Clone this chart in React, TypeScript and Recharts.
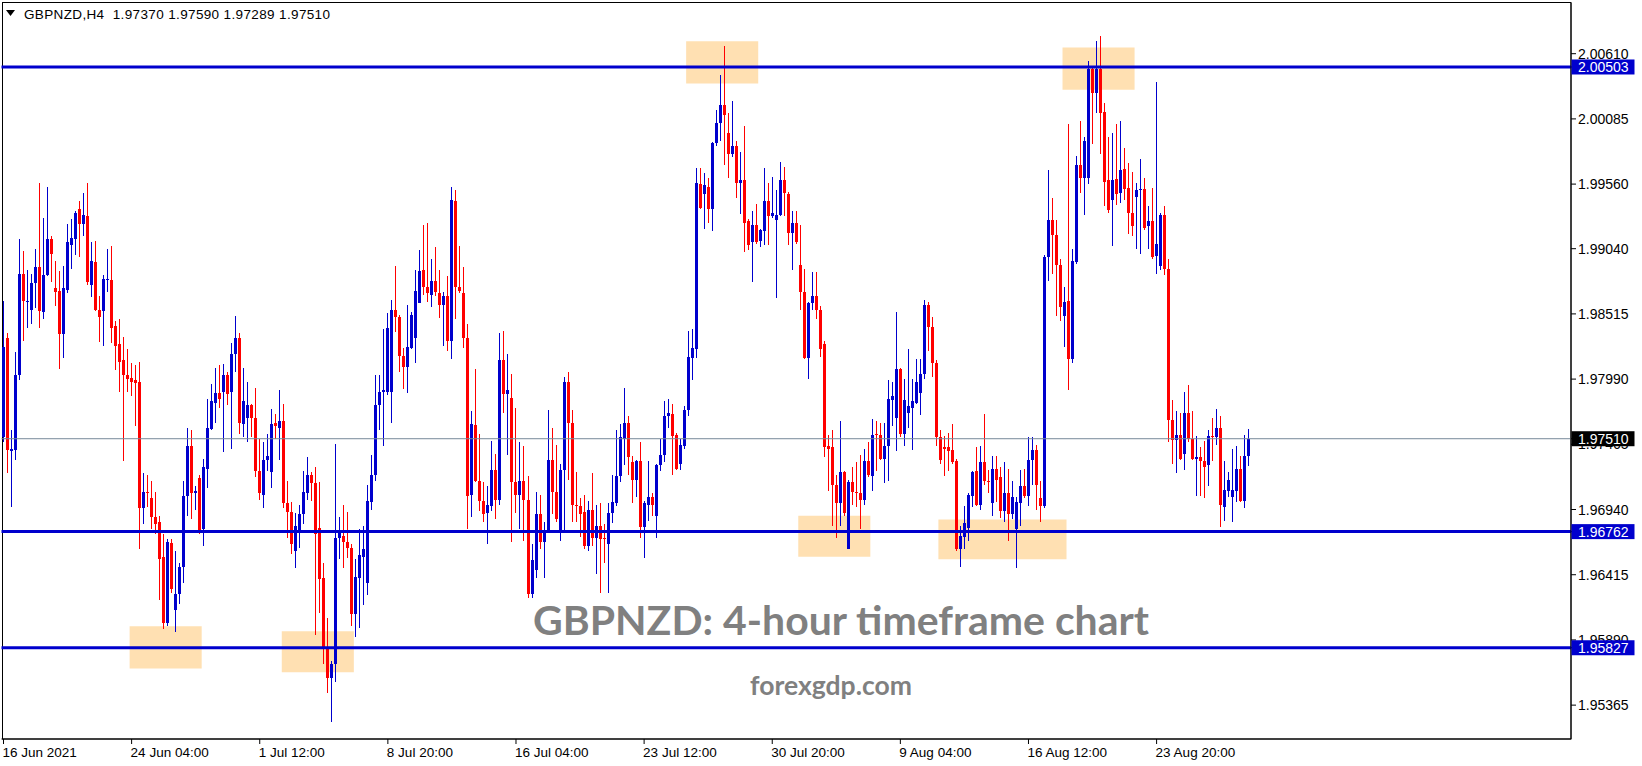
import React from 'react';
import { ComposedChart, Bar, XAxis, YAxis, ReferenceLine, ReferenceArea, Customized } from 'recharts';

// ---- OHLC values (H4 bars, GBPNZD) ----
const openP = [
1.9752,1.9832,1.9741,1.9742,1.9802,1.9884,1.9861,1.9855,1.9876,1.9889,
1.9853,1.9883,1.9912,1.9872,1.9870,1.9835,1.9871,1.9907,1.9912,1.9936,
1.9924,1.9930,1.9875,1.9893,1.9855,1.9854,1.9879,1.9879,1.9842,1.9827,
1.9814,1.9802,1.9800,1.9798,1.9797,1.9695,1.9708,1.9703,1.9688,1.9684,
1.9656,1.9603,1.9667,1.9613,1.9626,1.9648,1.9705,1.9745,1.9707,1.9719,
1.9678,1.9727,1.9759,1.9780,1.9788,1.9789,1.9802,1.9789,1.9819,1.9832,
1.9763,1.9768,1.9778,1.9768,1.9725,1.9706,1.9734,1.9724,1.9764,1.9760,
1.9765,1.9699,1.9692,1.9661,1.9676,1.9690,1.9707,1.9722,1.9715,1.9679,
1.9639,1.9582,1.9558,1.9570,1.9671,1.9673,1.9668,1.9663,1.9610,1.9639,
1.9656,1.9635,1.9700,1.9722,1.9778,1.9789,1.9789,1.9789,1.9855,1.9849,
1.9818,1.9809,1.9824,1.9832,1.9860,1.9887,1.9873,1.9867,1.9878,1.9868,
1.9859,1.9866,1.9830,1.9942,1.9873,1.9868,1.9832,1.9706,1.9762,1.9717,
1.9701,1.9691,1.9697,1.9726,1.9702,1.9814,1.9787,1.9784,1.9716,1.9706,
1.9717,1.9702,1.9626,1.9645,1.9690,1.9668,1.9677,1.9734,1.9708,1.9675,
1.9726,1.9797,1.9764,1.9698,1.9697,1.9692,1.9665,1.9694,1.9671,1.9681,
1.9671,1.9666,1.9691,1.9699,1.9721,1.9751,1.9764,1.9732,1.9718,1.9733,
1.9680,1.9698,1.9704,1.9689,1.9730,1.9738,1.9769,1.9771,1.9754,1.9731,
1.9745,1.9774,1.9816,1.9823,1.9956,1.9948,1.9954,1.9936,1.9989,2.0005,
2.0020,1.9997,1.9980,1.9987,1.9957,1.9959,1.9926,1.9909,1.9923,1.9910,
1.9918,1.9942,1.9930,1.9927,1.9931,1.9959,1.9948,1.9917,1.9925,1.9891,
1.9869,1.9816,1.9860,1.9866,1.9855,1.9827,1.9745,1.9744,1.9714,1.9699,
1.9724,1.9662,1.9716,1.9708,1.9707,1.9702,1.9733,1.9721,1.9755,1.9754,
1.9735,1.9745,1.9782,1.9768,1.9807,1.9755,1.9772,1.9776,1.9780,1.9788,
1.9803,1.9859,1.9841,1.9812,1.9752,1.9744,1.9744,1.9742,1.9733,1.9662,
1.9672,1.9679,1.9705,1.9725,1.9698,1.9732,1.9717,1.9699,1.9727,1.9720,
1.9693,1.9707,1.9690,1.9678,1.9699,1.9713,1.9705,1.9734,1.9742,1.9703,
1.9697,1.9897,1.9927,1.9915,1.9891,1.9850,1.9862,1.9815,1.9893,1.9971,
1.9961,1.9961,2.0049,2.0029,2.0049,2.0014,1.9959,1.9943,1.9960,1.9949,
1.9968,1.9953,1.9933,1.9946,1.9951,1.9952,1.9922,1.9926,1.9898,1.9890,
1.9931,1.9888,1.9766,1.9750,1.9754,1.9739,1.9772,1.9751,1.9735,1.9736,
1.9733,1.9730,1.9753,1.9752,1.9760,1.9696,1.9709,1.9704,1.9709,1.9727,
1.9701,1.97370];

const highP = [
1.9862,1.9836,1.9758,1.9821,1.9912,1.9902,1.9887,1.9884,1.9904,1.9957,
1.9929,1.9954,1.9914,1.9894,1.9886,1.9890,1.9924,1.9928,1.9934,1.9942,
1.9949,1.9957,1.9909,1.9910,1.9866,1.9883,1.9904,1.9906,1.9846,1.9847,
1.9833,1.9823,1.9812,1.9810,1.9813,1.9723,1.9722,1.9717,1.9708,1.9689,
1.9674,1.9670,1.9670,1.9661,1.9651,1.9717,1.9760,1.9758,1.9713,1.9722,
1.9735,1.9783,1.9795,1.9808,1.9810,1.9811,1.9805,1.9828,1.9850,1.9836,
1.9808,1.9797,1.9779,1.9792,1.9751,1.9748,1.9755,1.9775,1.9771,1.9790,
1.9779,1.9717,1.9700,1.9691,1.9698,1.9725,1.9736,1.9724,1.9728,1.9716,
1.9651,1.9607,1.9572,1.9747,1.9688,1.9698,1.9692,1.9666,1.9654,1.9678,
1.9681,1.9714,1.9738,1.9802,1.9802,1.9839,1.9852,1.9863,1.9890,1.9851,
1.9824,1.9859,1.9853,1.9887,1.9903,1.9923,1.9925,1.9896,1.9905,1.9887,
1.9869,1.9882,1.9954,1.9951,1.9906,1.9889,1.9843,1.9773,1.9807,1.9755,
1.9716,1.9713,1.9749,1.9739,1.9836,1.9838,1.9819,1.9803,1.9776,1.9748,
1.9745,1.9721,1.9666,1.9708,1.9706,1.9684,1.9774,1.9760,1.9746,1.9731,
1.9801,1.9805,1.9774,1.9724,1.9703,1.9706,1.9701,1.9723,1.9698,1.9699,
1.9682,1.9699,1.9722,1.9758,1.9763,1.9792,1.9769,1.9737,1.9734,1.9748,
1.9701,1.9733,1.9707,1.9731,1.9751,1.9781,1.9783,1.9779,1.9756,1.9751,
1.9777,1.9838,1.9839,1.9969,1.9969,1.9965,1.9961,1.9990,2.0016,2.0044,
2.0067,2.0013,2.0023,1.9991,1.9982,2.0003,1.9928,1.9934,1.9940,1.9920,
1.9969,1.9957,1.9962,1.9951,1.9974,1.9970,1.9950,1.9934,1.9934,1.9923,
1.9888,1.9861,1.9885,1.9885,1.9858,1.9830,1.9754,1.9758,1.9722,1.9765,
1.9725,1.9718,1.9728,1.9732,1.9738,1.9743,1.9748,1.9767,1.9765,1.9764,
1.9764,1.9798,1.9797,1.9853,1.9808,1.9799,1.9823,1.9799,1.9815,1.9815,
1.9863,1.9861,1.9849,1.9814,1.9758,1.9753,1.9756,1.9763,1.9735,1.9681,
1.9697,1.9707,1.9725,1.9744,1.9745,1.9771,1.9726,1.9737,1.9737,1.9728,
1.9732,1.9727,1.9717,1.9704,1.9726,1.9727,1.9752,1.9752,1.9746,1.9717,
1.9899,1.9967,1.9945,1.9927,1.9896,1.9873,2.0004,1.9904,1.9979,2.0007,
1.9994,2.0055,2.0050,2.0071,2.0075,2.0021,1.9994,1.9997,2.0004,2.0007,
1.9985,1.9973,1.9966,1.9957,1.9976,1.9961,1.9938,1.9953,2.0038,1.9933,
1.9938,1.9896,1.9782,1.9773,1.9772,1.9789,1.9794,1.9773,1.9753,1.9744,
1.9749,1.9758,1.9768,1.9775,1.9769,1.9733,1.9724,1.9743,1.9745,1.9737,
1.9754,1.97590];

const lowP = [
1.9748,1.9723,1.9696,1.9734,1.9798,1.9830,1.9840,1.9843,1.9856,1.9840,
1.9847,1.9882,1.9877,1.9858,1.9807,1.9816,1.9868,1.9888,1.9899,1.9897,
1.9914,1.9875,1.9865,1.9854,1.9829,1.9826,1.9869,1.9828,1.9806,1.9789,
1.9733,1.9789,1.9785,1.9761,1.9662,1.9682,1.9696,1.9678,1.9674,1.9621,
1.9598,1.9600,1.9627,1.9595,1.9618,1.9635,1.9689,1.9686,1.9694,1.9674,
1.9665,1.9711,1.9758,1.9764,1.9776,1.9740,1.9778,1.9743,1.9805,1.9755,
1.9752,1.9748,1.9752,1.9720,1.9702,1.9695,1.9725,1.9711,1.9751,1.9734,
1.9695,1.9671,1.9658,1.9647,1.9663,1.9682,1.9702,1.9701,1.9593,1.9611,
1.9570,1.9546,1.9523,1.9555,1.9654,1.9647,1.9655,1.9600,1.9591,1.9599,
1.9617,1.9625,1.9694,1.9717,1.9758,1.9745,1.9786,1.9764,1.9837,1.9805,
1.9791,1.9788,1.9823,1.9812,1.9860,1.9867,1.9861,1.9857,1.9866,1.9848,
1.9826,1.9822,1.9815,1.9847,1.9868,1.9824,1.9678,1.9688,1.9716,1.9693,
1.9684,1.9666,1.9693,1.9686,1.9698,1.9772,1.9738,1.9668,1.9691,1.9678,
1.9669,1.9623,1.9623,1.9639,1.9662,1.9639,1.9675,1.9690,1.9684,1.9669,
1.9677,1.9718,1.9684,1.9684,1.9672,1.9662,1.9661,1.9665,1.9642,1.9627,
1.9651,1.9627,1.9683,1.9697,1.9716,1.9730,1.9722,1.9699,1.9704,1.9671,
1.9655,1.9685,1.9689,1.9671,1.9725,1.9732,1.9760,1.9722,1.9726,1.9726,
1.9743,1.9769,1.9798,1.9816,1.9936,1.9920,1.9925,1.9918,1.9987,1.9991,
1.9971,1.9961,1.9978,1.9945,1.9932,1.9901,1.9903,1.9877,1.9908,1.9905,
1.9907,1.9907,1.9929,1.9864,1.9930,1.9930,1.9907,1.9887,1.9908,1.9855,
1.9815,1.9799,1.9855,1.9847,1.9817,1.9736,1.9709,1.9681,1.9671,1.9681,
1.9689,1.9662,1.9698,1.9696,1.9678,1.9698,1.9720,1.9709,1.9725,1.9734,
1.9715,1.9717,1.9761,1.9741,1.9752,1.9745,1.9760,1.9742,1.9779,1.9770,
1.9799,1.9822,1.9801,1.9745,1.9731,1.9721,1.9725,1.9731,1.9661,1.9648,
1.9662,1.9669,1.9696,1.9697,1.9694,1.9714,1.9707,1.9689,1.9700,1.9687,
1.9684,1.9669,1.9686,1.9647,1.9681,1.9703,1.9697,1.9714,1.9694,1.9684,
1.9695,1.9878,1.9884,1.9850,1.9846,1.9825,1.9790,1.9812,1.9892,1.9949,
1.9931,1.9956,1.9988,2.0013,1.9980,1.9938,1.9933,1.9906,1.9939,1.9941,
1.9943,1.9916,1.9914,1.9904,1.9900,1.9919,1.9904,1.9896,1.9884,1.9887,
1.9883,1.9748,1.9731,1.9723,1.9734,1.9726,1.9748,1.9734,1.9705,1.9705,
1.9703,1.9713,1.9733,1.9746,1.9680,1.9685,1.9704,1.9684,1.9700,1.9700,
1.9695,1.97289];

const closeP = [
1.9825,1.9742,1.9743,1.9802,1.9884,1.9862,1.9862,1.9876,1.9889,1.9854,
1.9883,1.9912,1.9900,1.9869,1.9835,1.9872,1.9909,1.9913,1.9933,1.9924,
1.9931,1.9877,1.9894,1.9855,1.9849,1.9880,1.9880,1.9840,1.9826,1.9813,
1.9802,1.9799,1.9797,1.9796,1.9695,1.9708,1.9707,1.9688,1.9682,1.9654,
1.9603,1.9668,1.9630,1.9626,1.9648,1.9705,1.9745,1.9707,1.9709,1.9677,
1.9728,1.9760,1.9781,1.9788,1.9783,1.9802,1.9787,1.9819,1.9832,1.9764,
1.9781,1.9778,1.9768,1.9725,1.9707,1.9734,1.9737,1.9763,1.9761,1.9765,
1.9699,1.9692,1.9666,1.9681,1.9690,1.9708,1.9722,1.9715,1.9674,1.9638,
1.9582,1.9558,1.9570,1.9671,1.9676,1.9668,1.9663,1.9610,1.9640,1.9657,
1.9662,1.9701,1.9722,1.9778,1.9789,1.9790,1.9840,1.9855,1.9849,1.9818,
1.9809,1.9825,1.9851,1.9870,1.9886,1.9873,1.9868,1.9878,1.9869,1.9859,
1.9866,1.9830,1.9943,1.9873,1.9870,1.9832,1.9705,1.9763,1.9717,1.9701,
1.9690,1.9698,1.9726,1.9702,1.9814,1.9787,1.9790,1.9716,1.9706,1.9717,
1.9702,1.9626,1.9653,1.9690,1.9668,1.9677,1.9734,1.9708,1.9686,1.9726,
1.9797,1.9764,1.9698,1.9697,1.9690,1.9665,1.9694,1.9671,1.9681,1.9670,
1.9670,1.9691,1.9700,1.9721,1.9752,1.9764,1.9736,1.9718,1.9733,1.9680,
1.9699,1.9704,1.9698,1.9730,1.9738,1.9769,1.9772,1.9753,1.9727,1.9746,
1.9774,1.9817,1.9824,1.9957,1.9937,1.9955,1.9936,1.9989,2.0005,2.0020,
2.0012,1.9980,1.9987,1.9957,1.9959,1.9925,1.9907,1.9923,1.9909,1.9919,
1.9942,1.9930,1.9933,1.9931,1.9959,1.9949,1.9917,1.9925,1.9909,1.9869,
1.9816,1.9860,1.9866,1.9855,1.9823,1.9744,1.9743,1.9714,1.9699,1.9724,
1.9691,1.9716,1.9708,1.9707,1.9702,1.9733,1.9722,1.9754,1.9754,1.9735,
1.9745,1.9783,1.9785,1.9807,1.9755,1.9782,1.9777,1.9781,1.9797,1.9803,
1.9859,1.9841,1.9812,1.9752,1.9734,1.9743,1.9741,1.9732,1.9662,1.9673,
1.9683,1.9706,1.9724,1.9698,1.9732,1.9717,1.9716,1.9727,1.9718,1.9693,
1.9707,1.9690,1.9704,1.9700,1.9713,1.9705,1.9734,1.9742,1.9714,1.9697,
1.9897,1.9927,1.9915,1.9891,1.9857,1.9861,1.9815,1.9894,1.9971,1.9961,
1.9991,2.0049,2.0029,2.0049,2.0013,1.9958,1.9935,1.9959,1.9948,1.9967,
1.9952,1.9933,1.9922,1.9951,1.9952,1.9921,1.9926,1.9897,1.9908,1.9931,
1.9888,1.9766,1.9750,1.9754,1.9735,1.9772,1.9751,1.9735,1.9736,1.9733,
1.9728,1.9753,1.9752,1.9760,1.9698,1.9710,1.9718,1.9710,1.9727,1.9701,
1.9737,1.97510];

const TOTAL_SLOTS = 392;
const xTickIdx = [0, 32, 64, 96, 128, 160, 192, 224, 256, 288];
const xTickLabels = ['16 Jun 2021', '24 Jun 04:00', '1 Jul 12:00', '8 Jul 20:00', '16 Jul 04:00',
  '23 Jul 12:00', '30 Jul 20:00', '9 Aug 04:00', '16 Aug 12:00', '23 Aug 20:00'];
const yTicks = [2.0061, 2.00085, 1.9956, 1.9904, 1.98515, 1.9799, 1.97465, 1.9694, 1.96415, 1.9589, 1.95365];
const yDomain = [1.950923, 2.010182];
const levelLines = [2.00503, 1.96762, 1.95827];
const lastPrice = 1.9751;
const zoneX1 = [32, 70, 171, 199, 234, 265];
const zoneX2 = [49, 87, 188, 216, 265, 282];
const zoneLow = [1.9566, 1.9563, 2.0037, 1.9656, 1.9654, 2.0032];
const zoneHigh = [1.9600, 1.9596, 2.0071, 1.9689, 1.9686, 2.0066];

const UP = '#0000CD';
const DOWN = '#FF0000';
const LEVEL = '#0000CD';
const FONT = 'Liberation Sans, Arial, sans-serif';

// axis ticks: the regular scale ticks first, then the highlighted price tags (drawn on top)
const allYTicks = [...yTicks, lastPrice, ...levelLines];

const data = Array.from({ length: TOTAL_SLOTS }, (_, i) =>
  i < openP.length
    ? { i, o: openP[i], h: highP[i], l: lowP[i], c: closeP[i], range: [lowP[i], highP[i]] }
    : { i, range: null }
);

const Candle = (props: any) => {
  const { x, y, width, height, payload } = props;
  if (!payload || payload.o == null || x == null || y == null) return null;
  const { o, h, l, c } = payload;
  const top = Math.min(y, y + height);
  const bottom = Math.max(y, y + height);
  const span = h - l;
  const yOf = (v: number) => (span > 0 ? top + ((h - v) / span) * (bottom - top) : top);
  const cx = x + width / 2;
  const px = Math.floor(cx);
  const color = c >= o ? UP : DOWN;
  const bTop = Math.round(yOf(Math.max(o, c)));
  const bBot = Math.round(yOf(Math.min(o, c)));
  const wTop = Math.round(top);
  const wBot = Math.round(bottom);
  return (
    <g shapeRendering="crispEdges">
      <rect x={px} y={wTop} width={1} height={Math.max(1, wBot - wTop)} fill={color} />
      <rect x={px - 1} y={bTop} width={3} height={Math.max(1, bBot - bTop)} fill={color} />
    </g>
  );
};

const XTick = (props: any) => {
  const { x, y, payload } = props;
  const k = xTickIdx.indexOf(Number(payload.value));
  const label = k >= 0 ? xTickLabels[k] : '';
  return (
    <text x={x - 1} y={y + 11} textAnchor="start" fontFamily={FONT} fontSize={13.5} fill="#000">
      {label}
    </text>
  );
};

const YTick = (props: any) => {
  const { x, y, payload } = props;
  const v = Number(payload.value);
  const txt = v.toFixed(5);
  const isLast = Math.abs(v - lastPrice) < 1e-9;
  const isLevel = levelLines.some((l) => Math.abs(l - v) < 1e-9);
  if (isLast || isLevel) {
    const bg = isLast ? '#000' : LEVEL;
    return (
      <g>
        <rect x={x - 6.5} y={y - 7.5} width={63} height={15} fill={bg} />
        <text x={x} y={y + 5} fontFamily={FONT} fontSize={14} fill="#fff">{txt}</text>
      </g>
    );
  }
  return (
    <text x={x} y={y + 5} fontFamily={FONT} fontSize={14} fill="#000">{txt}</text>
  );
};

const Overlay = () => (
  <g>
    <rect x={2.5} y={2.5} width={1568.5} height={736.5} fill="none" stroke="#000" strokeWidth={1} />
    <polygon points="6,10 15,10 10.5,16" fill="#000" />
    <text x={24} y={19} fontFamily={FONT} fontSize={13.5} fill="#000" style={{ whiteSpace: 'pre' }} textLength={306} lengthAdjust="spacing">
      {'GBPNZD,H4  1.97370 1.97590 1.97289 1.97510'}
    </text>
    <text x={841} y={635} textAnchor="middle" fontFamily="Lato, 'Open Sans', sans-serif" fontWeight={700} fontSize={40} fill="#808080" textLength={616} lengthAdjust="spacingAndGlyphs">
      GBPNZD: 4-hour timeframe chart
    </text>
    <text x={831} y={695} textAnchor="middle" fontFamily="Lato, 'Open Sans', sans-serif" fontWeight={700} fontSize={27} fill="#808080" textLength={162} lengthAdjust="spacingAndGlyphs">
      forexgdp.com
    </text>
  </g>
);

export default function App() {
  return (
    <div style={{ position: 'absolute', left: 0, top: 0, width: 1642, height: 766, background: '#fff' }}>
      <ComposedChart width={1642} height={766} data={data} margin={{ top: 3, right: 0, bottom: 0, left: 1.5 }} barCategoryGap={0}>
        <XAxis
          dataKey="i"
          type="category"
          ticks={xTickIdx}
          interval={0}
          height={27}
          tickSize={5}
          tickMargin={2}
          axisLine={{ stroke: '#000' }}
          tickLine={{ stroke: '#000' }}
          tick={<XTick />}
        />
        <YAxis
          orientation="right"
          type="number"
          domain={yDomain}
          allowDataOverflow
          ticks={allYTicks}
          interval={0}
          width={71}
          tickSize={5}
          tickMargin={2}
          axisLine={{ stroke: '#000' }}
          tickLine={{ stroke: '#000' }}
          tick={<YTick />}
        />
        {zoneX1.map((x1, k) => (
          <ReferenceArea key={'z' + k} x1={x1} x2={zoneX2[k]} y1={zoneLow[k]} y2={zoneHigh[k]} fill="#FFE0B2" fillOpacity={1} stroke="none" ifOverflow="visible" />
        ))}
        <ReferenceLine y={lastPrice} stroke="#778899" strokeWidth={1} />
        <Bar dataKey="range" shape={<Candle />} isAnimationActive={false} />
        {levelLines.map((v, k) => (
          <ReferenceLine key={'l' + k} y={v} stroke={LEVEL} strokeWidth={3} />
        ))}
        <Customized component={Overlay} />
      </ComposedChart>
    </div>
  );
}
